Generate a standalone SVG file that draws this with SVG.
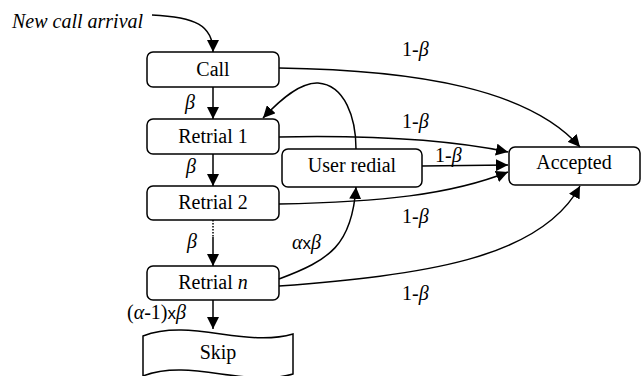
<svg xmlns="http://www.w3.org/2000/svg" width="643" height="376" viewBox="0 0 643 376">
<style>
.box{fill:#fff;stroke:#000;stroke-width:1.5}
.t{font-family:'Liberation Serif','Times New Roman',Tinos,'DejaVu Serif',serif;font-size:20px;fill:#000}
.c{text-anchor:middle}
.i{font-style:italic}
.x{font-family:'Liberation Sans',Arial,sans-serif;font-size:17px;font-style:normal}
.e{fill:none;stroke:#000;stroke-width:1.5;marker-end:url(#ah)}
</style>
<defs>
<marker id="ah" markerUnits="userSpaceOnUse" markerWidth="12" markerHeight="12" refX="12" refY="6" orient="auto">
<path d="M0,0 L12,6 L0,12 z" fill="#000"/>
</marker>
</defs>
<rect width="643" height="376" fill="#fff"/>
<text class="t i" x="12" y="28" font-family="Liberation Serif, serif">New call arrival</text>
<g id="call"><rect class="box" x="147" y="52" width="132" height="35" rx="6"/><text class="t c" x="213" y="76" font-family="Liberation Serif, serif">Call</text></g>
<g id="retrial1"><rect class="box" x="147" y="119" width="132" height="35" rx="6"/><text class="t c" x="213" y="143" font-family="Liberation Serif, serif">Retrial 1</text></g>
<g id="retrial2"><rect class="box" x="147" y="186" width="132" height="34" rx="6"/><text class="t c" x="213" y="209" font-family="Liberation Serif, serif">Retrial 2</text></g>
<g id="retrialn"><rect class="box" x="147" y="266" width="132" height="34" rx="6"/><text class="t c" x="213" y="289" font-family="Liberation Serif, serif">Retrial <tspan class="i">n</tspan></text></g>
<g id="skip"><path class="box" d="M143,336 C190,318 245,348 293,334 L293,374 C245,388 190,358 143,376 Z"/><text class="t c" x="218" y="359" font-family="Liberation Serif, serif">Skip</text></g>
<g id="userredial"><rect class="box" x="282" y="149" width="140" height="38" rx="6"/><text class="t c" x="352" y="172" font-family="Liberation Serif, serif">User redial</text></g>
<g id="accepted"><rect class="box" x="509" y="147" width="131" height="38" rx="6"/><text class="t c" x="574" y="169" font-family="Liberation Serif, serif">Accepted</text></g>
<g id="connectors">
<path class="e" d="M152,15 C195,17 213,25 213,52"/>
<path class="e" d="M213,87 V119"/>
<path class="e" d="M213,154 V186"/>
<path d="M213,220 V237" fill="none" stroke="#000" stroke-width="1.5" stroke-dasharray="1.5,1.5"/>
<path class="e" d="M213,237 V266"/>
<path class="e" d="M213,300 V329"/>
<path class="e" d="M279,68 C420,70 530,90 580,147"/>
<path class="e" d="M279,137 C380,135 450,140 508,152"/>
<path class="e" d="M422,166 L508,165"/>
<path class="e" d="M279,204 C380,202 450,195 508,172"/>
<path class="e" d="M279,279 C330,260 352,245 356,187"/>
<path class="e" d="M279,286 C420,275 540,260 580,186"/>
<path class="e" d="M356,149 C356,118 345,85 318,83 C300,82 280,100 263,118"/>
</g>
<g id="labels" font-family="Liberation Serif, serif">
<text class="t i" x="185" y="109">β</text>
<text class="t i" x="186" y="173">β</text>
<text class="t i" x="187" y="248">β</text>
<text class="t" x="127" y="319">(<tspan class="i">α</tspan>-1)<tspan class="x">x</tspan><tspan class="i">β</tspan></text>
<text class="t" x="292" y="249"><tspan class="i">α</tspan><tspan class="x">x</tspan><tspan class="i">β</tspan></text>
<text class="t" x="402" y="56">1-<tspan class="i">β</tspan></text>
<text class="t" x="402" y="128">1-<tspan class="i">β</tspan></text>
<text class="t" x="435" y="162">1-<tspan class="i">β</tspan></text>
<text class="t" x="402" y="223">1-<tspan class="i">β</tspan></text>
<text class="t" x="402" y="300">1-<tspan class="i">β</tspan></text>
</g>
</svg>
